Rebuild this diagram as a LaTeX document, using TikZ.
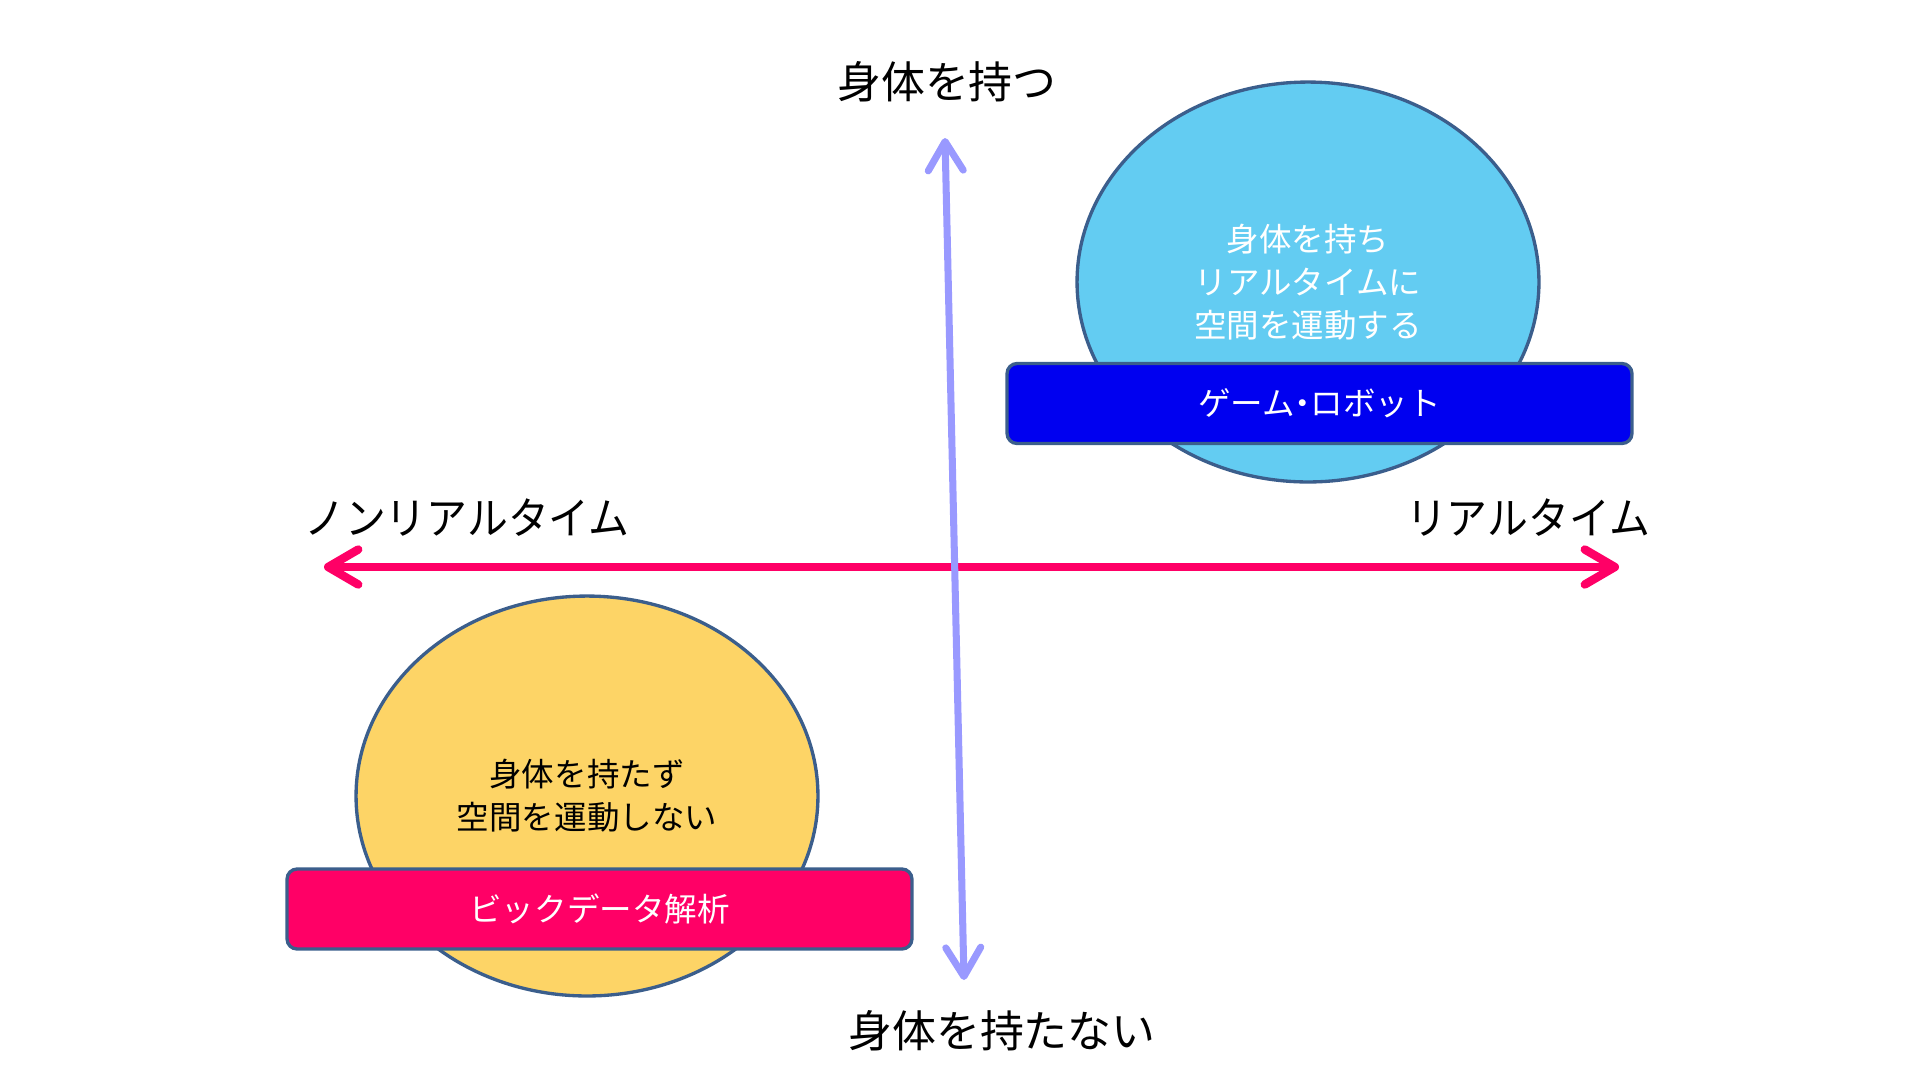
\documentclass[tikz,border=0pt]{standalone}
\usepackage{fontspec}
\setmainfont{Noto Sans CJK JP}
\usepackage{tikz}
\usetikzlibrary{arrows.meta,shapes.geometric}

\definecolor{edgeblue}{HTML}{3B5E8C}
\definecolor{skyfill}{HTML}{63CCF2}
\definecolor{sunfill}{HTML}{FDD466}
\definecolor{deepblue}{HTML}{0000F0}
\definecolor{hotpink}{HTML}{FF0066}
\definecolor{lavender}{HTML}{9999FF}

\begin{document}
\begin{tikzpicture}[x=0.02cm,y=-0.02cm]
\tikzstyle{blob}=[ellipse, draw=edgeblue, line width=1.9pt, minimum width=9.24cm, minimum height=8cm, align=center, font=\fontsize{18.5}{24.5}\selectfont]
\tikzstyle{bar}=[draw=edgeblue, line width=1.9pt, rectangle, rounded corners=0.2cm, minimum width=12.5cm, minimum height=1.6cm, text=white, font=\fontsize{18.5}{24.5}\selectfont]
\tikzstyle{axislabel}=[font=\fontsize{25}{30}\selectfont]
\useasboundingbox (0,0) rectangle (1920,1080);

% realtime axis
\coordinate (nrt) at (324,567);
\coordinate (rt) at (1619,567);
\draw[hotpink, line width=4.8pt, {Straight Barb[round,length=0.6cm,width=0.7cm]}-{Straight Barb[round,length=0.6cm,width=0.7cm]}] (nrt) -- (rt);

% body axis
\coordinate (body) at (945,138);
\coordinate (nobody) at (964,980);
\draw[lavender, line width=4pt, {Straight Barb[round,length=0.58cm,width=0.7cm]}-{Straight Barb[round,length=0.58cm,width=0.7cm]}] (body) -- (nobody);

% axis labels
\node[axislabel] (lbody) at (947,82) {身体を持つ};
\node[axislabel] (lnobody) at (1002,1031) {身体を持たない};
\node[axislabel, xscale=0.93, transform shape] (lnrt) at (467,518) {ノンリアルタイム};
\node[axislabel, xscale=0.93, transform shape] (lrt) at (1528,518) {リアルタイム};

% upper right
\node[blob, fill=skyfill, text=white] (moving) at (1308,282) {身体を持ち\\リアルタイムに\\空間を運動する};
\node[bar, fill=deepblue] (robot) at (1319.5,403.5) {ゲーム{\kern-0.25em}・{\kern-0.25em}ロボット};

% lower left
\node[blob, fill=sunfill, text=black] (still) at (587,796) {身体を持たず\\空間を運動しない};
\node[bar, fill=hotpink] (bigdata) at (599.5,909) {ビックデータ解析};

\end{tikzpicture}
\end{document}
